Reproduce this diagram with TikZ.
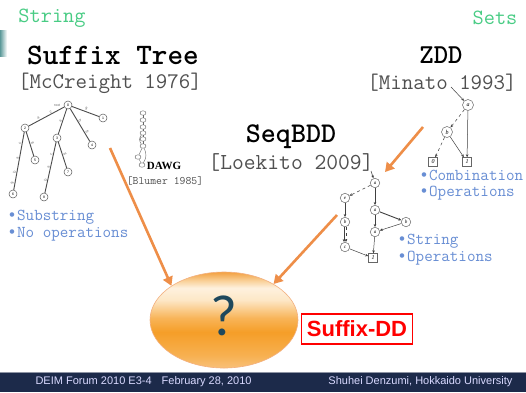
\documentclass[tikz,border=0pt]{standalone}
\usepackage{fontspec}
\setmainfont{Liberation Sans}
\newfontfamily\courier{Liberation Mono}
\newfontfamily\timesf{Liberation Serif}
\newfontfamily\calibri{Carlito}
\usepackage{tikz}
\usetikzlibrary{arrows.meta}
\usetikzlibrary{shapes.geometric}
\usetikzlibrary{positioning}
\definecolor{mint}{RGB}{72,204,132}
\definecolor{note}{RGB}{104,142,212}
\definecolor{cite}{RGB}{80,80,80}
\definecolor{orng}{RGB}{238,142,72}
\definecolor{navy}{RGB}{28,42,74}
\definecolor{qmark}{RGB}{30,72,92}
\definecolor{eggA}{RGB}{248,192,120}
\definecolor{eggB}{RGB}{247,176,80}
\definecolor{eggC}{RGB}{245,158,40}
\definecolor{eggD}{RGB}{248,180,88}
\definecolor{eggE}{RGB}{253,231,198}
\definecolor{eggF}{RGB}{254,241,222}
\definecolor{eggG}{RGB}{249,206,147}
\definecolor{eggH}{RGB}{242,160,64}
\pgfdeclareverticalshading{eggshade}{100bp}{color(0bp)=(eggA); color(25bp)=(eggA);
  color(31.8bp)=(eggB); color(43.7bp)=(eggC); color(51bp)=(eggD); color(60.4bp)=(eggE);
  color(66.7bp)=(eggF); color(70.8bp)=(eggG); color(75bp)=(eggH); color(100bp)=(eggH)}
\newcommand{\fsz}[1]{\fontsize{#1}{#1}\selectfont}
\newcommand{\bul}{{\courier •}}
\tikzstyle{orarrow}= [line width=2.6pt, orng, -{Triangle[length=9pt,width=10pt]}]
\tikzstyle{bddarrow}= [line width=0.5pt, black!75, -{Stealth[length=3pt,width=2.6pt]}]

\begin{document}
\begin{tikzpicture}[
    x=1pt, y=-1pt,
    stnode/.style={circle,draw=black!65,line width=0.5pt,minimum size=8pt,inner sep=0pt,font=\fsz{3.5}},
    stedge/.style={black!70,line width=0.9pt},
    elab/.style={font=\fsz{4},text=black!55,inner sep=0.5pt,sloped,above},
    dwnode/.style={ellipse,draw=black!60,line width=0.4pt,minimum width=6pt,minimum height=4.5pt,inner sep=0pt},
    bdd/.style={circle,draw=black!60,line width=0.5pt,minimum size=11pt,inner sep=0pt,font=\timesf\itshape\fsz{6}},
    sbdd/.style={bdd,minimum size=9.5pt,font=\timesf\itshape\fsz{5}},
    term/.style={rectangle,draw=black!60,line width=0.5pt,minimum size=9pt,inner sep=0pt,font=\timesf\itshape\fsz{6}},
    bullets/.style={note,font=\ttfamily\fontsize{16.6}{17}\selectfont,anchor=west,align=left,inner sep=0pt},
    egg/.style={ellipse,shading=eggshade,draw=orng!70,line width=0.6pt,minimum width=148pt,minimum height=96pt,inner sep=0pt}
  ]
  \useasboundingbox (0,0) rectangle (526,392);
  \fill[white] (0,0) rectangle (526,392);
  \shade[left color=teal!60!gray!80, right color=white] (0,30) rectangle (7,56);

  \node[mint,font=\ttfamily\fsz{21.7}] (str) at (52,18) {String};
  \node[mint,font=\ttfamily\fsz{21.7}] (sets) at (495,18) {Sets};
  \node[font=\ttfamily\bfseries\fsz{29.7}] (sft) at (113,55) {Suffix Tree};
  \node[cite,font=\ttfamily\fsz{22.3}] (mcc) at (110,83) {[McCreight 1976]};
  \node[font=\ttfamily\bfseries\fsz{27.4}] (zdd) at (441,55) {ZDD};
  \node[cite,font=\ttfamily\fsz{22.3}] (mina) at (442,83) {[Minato 1993]};
  \node[font=\ttfamily\bfseries\fsz{28.6}] (seq) at (291,137) {SeqBDD};
  \node[cite,font=\ttfamily\fsz{22.9}] (loek) at (291,162) {[Loekito 2009]};
  \node[font=\timesf\bfseries\fsz{11}] (dawg) at (164,166) {DAWG};
  \node[cite,font=\ttfamily\fsz{11.4}] (blum) at (165,181) {[Blumer 1985]};

  \node[bullets] (stnote) at (7,226) {\bul Substring\\\bul No operations};
  \node[bullets,font=\ttfamily\fontsize{16.6}{16}\selectfont] (zdnote) at (419,185) {\bul Combination\\\bul Operations};
  \node[bullets] (sqnote) at (397,250) {\bul String\\\bul Operations};

  % suffix tree
  \node[stnode] (r) at (68,105) {0};
  \node[font=\fsz{3.5},text=black!60,left=0pt of r] (rl) {root};
  \node[stnode] (n1) at (103,118) {1};
  \node[stnode] (n2) at (25,128) {2};
  \node[stnode] (n3) at (57,138) {3};
  \node[stnode] (n4) at (92,145) {4};
  \node[stnode] (n5) at (35,160) {5};
  \node[stnode] (n6) at (13,194) {6};
  \node[stnode] (n7) at (68,172) {7};
  \node[stnode] (n8) at (44,197) {8};
  \draw[stedge] (r) -- node[elab] {\$} (n1);
  \draw[stedge] (r) -- node[elab,pos=0.35] {c} node[elab,pos=0.7] {a} (n2);
  \draw[stedge] (r) -- node[elab] {a} (n3);
  \draw[stedge] (r) -- node[elab,pos=0.4] {b} node[elab,pos=0.75] {\$} (n4);
  \draw[stedge] (n2) -- node[elab] {\$} (n5);
  \draw[stedge] (n2) -- node[elab,pos=0.2] {c} node[elab,pos=0.45] {a} node[elab,pos=0.7] {b} node[elab,pos=0.9] {\$} (n6);
  \draw[stedge] (n3) -- node[elab] {\$} (n7);
  \draw[stedge] (n3) -- node[elab,pos=0.25] {c} node[elab,pos=0.5] {a} node[elab,pos=0.75] {b} (n8);

  % DAWG
  \foreach \y [count=\i] in {113,120,127,133,139,146}
    \node[dwnode] (d\i) at (143,\y) {};
  \node[dwnode] (d7) at (138,157) {};
  \node[dwnode] (d8) at (142,165) {};
  \foreach \i/\j in {1/2,2/3,3/4,4/5,5/6,6/7,7/8}
    \draw[black!60,line width=0.4pt] (d\i) -- (d\j);
  \draw[black!60,line width=0.4pt] (d6) to[bend left=30] (d8);
  \draw[black!60,line width=0.4pt] (d4) to[bend right=40] (d6);

  % ZDD
  \node[bdd] (za) at (468,105) {a};
  \node[bdd] (zb) at (447,132) {b};
  \node[term] (z0) at (433,162) {0};
  \node[term] (z1) at (467,162) {1};
  \coordinate (zl) at (451,87);
  \draw[bddarrow] (zl) -- (za);
  \draw[bddarrow,dashed] (za) -- (zb);
  \draw[bddarrow] (za) -- (z1);
  \draw[bddarrow,dashed] (zb) -- (z0);
  \draw[bddarrow] (zb) -- (z1);

  % SeqBDD
  \node[sbdd] (q1) at (375,183) {a};
  \node[sbdd] (q2) at (345,198) {e};
  \node[sbdd] (q3) at (345,222) {b};
  \node[sbdd] (q4) at (345,247) {c};
  \node[sbdd] (q5) at (375,210) {a};
  \node[sbdd] (q6) at (406,222) {b};
  \node[sbdd] (q7) at (375,232) {a};
  \node[term] (qt) at (373,258) {1};
  \coordinate (ql) at (371,171);
  \draw[bddarrow] (ql) -- (q1);
  \draw[bddarrow,dashed] (q1) -- (q2);
  \draw[bddarrow] (q1) -- (q5);
  \draw[bddarrow] (q2) -- (q3);
  \draw[bddarrow] ([xshift=-1pt]q3.south) -- ([xshift=-1pt]q4.north);
  \draw[bddarrow,dashed] ([xshift=1pt]q3.south) -- ([xshift=1pt]q4.north);
  \draw[bddarrow] (q4) -- (qt);
  \draw[bddarrow,line width=0.9pt] (q5) -- (q6);
  \draw[bddarrow] (q5) -- (q7);
  \draw[bddarrow] (q6) -- (q7);
  \draw[bddarrow] (q7) -- (qt);

  % where they meet
  \node[egg] (egg) at (224,320) {};
  \node[qmark,font=\calibri\fsz{58}] (qm) at (224,316) {?};
  \node[draw=red,line width=1.3pt,text=red,font=\bfseries\fsz{22},minimum width=111pt,minimum height=30pt,inner sep=0pt] (sdd) at (357,329) {Suffix-DD};

  \coordinate (o1) at (110,148);
  \coordinate (o2) at (423,127);
  \coordinate (o2e) at (385,172);
  \coordinate (o3) at (337,215);
  \draw[orarrow] (o1) -- (egg.147);
  \draw[orarrow] (o2) -- (o2e);
  \draw[orarrow] (o3) -- (egg.36);

  % footer
  \fill[navy] (0,372) rectangle (526,392);
  \draw[line width=1pt,navy!50!white] (0,372.5) -- (526,372.5);
  \node[anchor=west,font=\fsz{11},text=white!85!blue] (deim) at (32,382) {DEIM Forum 2010 E3-4\hspace{10pt}February 28, 2010};
  \node[anchor=east,font=\fsz{11},text=white!85!blue] (auth) at (516,382) {Shuhei Denzumi, Hokkaido University};
\end{tikzpicture}
\end{document}
